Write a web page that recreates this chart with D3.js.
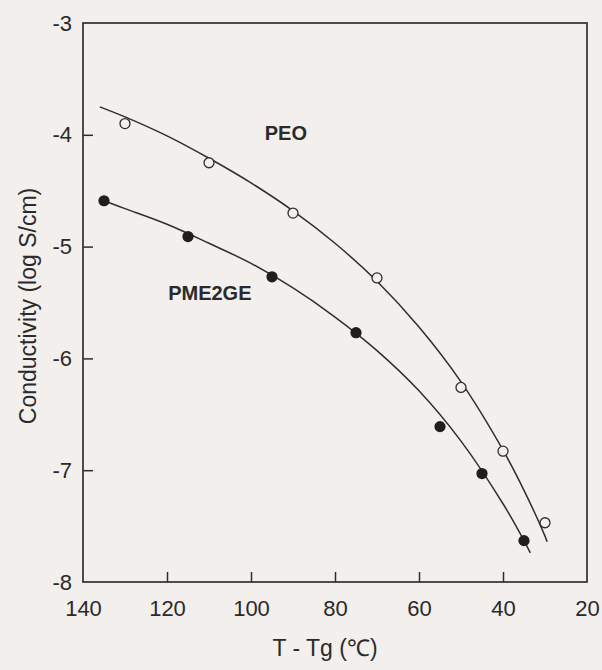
<!DOCTYPE html>
<html>
<head>
<meta charset="utf-8">
<script src="https://cdn.jsdelivr.net/npm/d3@7"></script>
<style>
  html, body { margin: 0; padding: 0; background: #f2efec; }
  svg { display: block; }
  text { font-family: "Liberation Sans", Arial, Helvetica, sans-serif; fill: #2a2a2a; }
</style>
</head>
<body>
<svg id="chart" width="602" height="670"></svg>
<script>
// ---- data ----
const xTicks = [140, 120, 100, 80, 60, 40, 20];
const yTicks = [-3, -4, -5, -6, -7, -8];

// measured points: PEO (open circles)
const peoX = [130, 110, 90, 70, 50, 40, 30];
const peoY = [-3.90, -4.25, -4.70, -5.28, -6.26, -6.83, -7.47];
// measured points: PME2GE (filled circles)
const pmeX = [135, 115, 95, 75, 55, 45, 35];
const pmeY = [-4.59, -4.91, -5.27, -5.77, -6.61, -7.03, -7.63];

// fitted curves
const peoFitX = [136, 130, 120, 110, 100, 90, 80, 70, 60, 50, 40, 35, 30, 29.5];
const peoFitY = [-3.75, -3.84, -4.01, -4.21, -4.43, -4.68, -4.97, -5.31, -5.72, -6.21, -6.82, -7.18, -7.59, -7.64];
const pmeFitX = [135, 130, 120, 110, 100, 90, 80, 70, 60, 50, 40, 35, 33.5];
const pmeFitY = [-4.59, -4.66, -4.80, -4.97, -5.15, -5.37, -5.63, -5.93, -6.29, -6.74, -7.30, -7.63, -7.74];

const seriesLabels = ["PEO", "PME2GE"];
const xTitle = "T -  Tg (\u2103)";
const yTitle = "Conductivity (log S/cm)";

// ---- layout ----
const svg = d3.select("#chart");
const mLeft = 83, mRight = 587, mTop = 23, mBottom = 582;
const ink = "#2f2f2f";
const fmt = d => String(d);

const x = d3.scaleLinear().domain([140, 20]).range([mLeft, mRight]);
const y = d3.scaleLinear().domain([-8, -3]).range([mBottom, mTop]);

// frame
svg.append("rect")
  .attr("x", mLeft).attr("y", mTop)
  .attr("width", mRight - mLeft).attr("height", mBottom - mTop)
  .attr("fill", "none").attr("stroke", ink).attr("stroke-width", 1.7);

// x axis (inward ticks)
const xAxis = d3.axisBottom(x).tickValues(xTicks).tickSize(-10).tickPadding(18)
  .tickFormat(fmt);
const gx = svg.append("g").attr("transform", `translate(0,${mBottom})`).call(xAxis);
gx.select(".domain").remove();
gx.selectAll(".tick line").attr("stroke", ink).attr("stroke-width", 1.5)
  .filter(d => d === 140 || d === 20).remove();
gx.selectAll(".tick text").attr("font-size", 22).attr("fill", "#2a2a2a")
  .style("font-family", '"Liberation Sans", Arial, sans-serif');

// y axis (inward ticks)
const yAxis = d3.axisLeft(y).tickValues(yTicks).tickSize(-10).tickPadding(11)
  .tickFormat(fmt);
const gy = svg.append("g").attr("transform", `translate(${mLeft},0)`).call(yAxis);
gy.select(".domain").remove();
gy.selectAll(".tick line").attr("stroke", ink).attr("stroke-width", 1.5)
  .filter(d => d === -3 || d === -8).remove();
gy.selectAll(".tick text").attr("font-size", 22).attr("fill", "#2a2a2a")
  .style("font-family", '"Liberation Sans", Arial, sans-serif');

// axis titles
svg.append("text")
  .attr("x", 325).attr("y", 656)
  .attr("text-anchor", "middle").attr("font-size", 23)
  .text(xTitle);
svg.append("text")
  .attr("transform", `translate(36,306) rotate(-90)`)
  .attr("text-anchor", "middle").attr("font-size", 23)
  .text(yTitle);

// fitted curves
const line = d3.line().x(d => x(d[0])).y(d => y(d[1])).curve(d3.curveCatmullRom.alpha(0.5));
svg.append("path")
  .datum(d3.zip(peoFitX, peoFitY))
  .attr("d", line).attr("fill", "none").attr("stroke", ink).attr("stroke-width", 1.5);
svg.append("path")
  .datum(d3.zip(pmeFitX, pmeFitY))
  .attr("d", line).attr("fill", "none").attr("stroke", ink).attr("stroke-width", 1.5);

// markers
svg.append("g").selectAll("circle")
  .data(d3.zip(peoX, peoY)).join("circle")
  .attr("cx", d => x(d[0])).attr("cy", d => y(d[1])).attr("r", 5)
  .attr("fill", "#f2efec").attr("stroke", ink).attr("stroke-width", 1.3);
svg.append("g").selectAll("circle")
  .data(d3.zip(pmeX, pmeY)).join("circle")
  .attr("cx", d => x(d[0])).attr("cy", d => y(d[1])).attr("r", 5.6)
  .attr("fill", "#1e1e1e").attr("stroke", "none");

// series labels
svg.append("text")
  .attr("x", x(91.7)).attr("y", y(-4.05))
  .attr("text-anchor", "middle").attr("font-size", 20).attr("font-weight", "bold")
  .text(seriesLabels[0]);
svg.append("text")
  .attr("x", x(109.8)).attr("y", y(-5.48))
  .attr("text-anchor", "middle").attr("font-size", 20).attr("font-weight", "bold")
  .text(seriesLabels[1]);
</script>
</body>
</html>
